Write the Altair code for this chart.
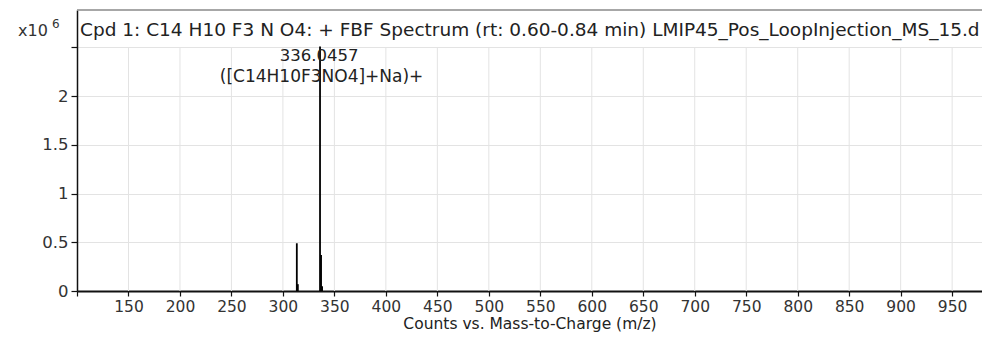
import altair as alt
import pandas as pd

# spectrum peaks (m/z, counts)
peak_mz = [313.5, 314.5, 336.0457, 337.05, 338.05]
peak_counts = [490000, 70000, 2510000, 370000, 50000]

x_ticks = [100, 150, 200, 250, 300, 350, 400, 450, 500, 550, 600, 650, 700, 750, 800, 850, 900, 950]
y_ticks = [0, 0.5, 1, 1.5, 2, 2.5]

title_text = "Cpd 1: C14 H10 F3 N O4: + FBF Spectrum (rt: 0.60-0.84 min) LMIP45_Pos_LoopInjection_MS_15.d"
ann_lines = ["336.0457", "([C14H10F3NO4]+Na)+"]

X_DOM = [100, 979]
Y_DOM = [0, 2.885]
FONT = "DejaVu Sans"

peaks = pd.DataFrame({"mz": peak_mz, "counts": peak_counts})
peaks["y"] = peaks["counts"] / 1e6
peaks["y0"] = 0.0

grid = pd.DataFrame({"mz": x_ticks[1:], "y0": 0.0, "y1": 2.5})

xs = alt.Scale(domain=X_DOM, nice=False, zero=False)
ys = alt.Scale(domain=Y_DOM, nice=False, zero=True)

vgrid = alt.Chart(grid).mark_rule(color="#e3e3e3", strokeWidth=1).encode(
    x=alt.X("mz:Q", scale=xs,
            axis=alt.Axis(values=x_ticks, grid=False, title="Counts vs. Mass-to-Charge (m/z)",
                          labelExpr="datum.value == 100 ? '' : datum.label",
                          labelFont=FONT, labelFontSize=15.5, labelColor="#333333",
                          titleFont=FONT, titleFontSize=15.5, titleFontWeight="normal",
                          titleColor="#222222", titlePadding=2,
                          domainColor="#111111", domainWidth=2,
                          tickColor="#111111", tickSize=5, tickWidth=1.2,
                          labelPadding=3)),
    y=alt.Y("y0:Q", scale=ys,
            axis=alt.Axis(values=y_ticks, grid=True, gridColor="#e3e3e3", title=None,
                          labelExpr="datum.value == 2.5 ? '' : format(datum.value, '~g')",
                          labelFont=FONT, labelFontSize=16.5, labelColor="#333333",
                          domainColor="#111111", domainWidth=1.5,
                          tickColor="#111111", tickSize=6, tickWidth=1.2,
                          labelPadding=3)),
    y2="y1:Q",
)

top_line = alt.Chart(pd.DataFrame({"a": [X_DOM[0]], "b": [X_DOM[1]], "y": [Y_DOM[1]]})).mark_rule(
    color="#8a8a8a", strokeWidth=1.5
).encode(x=alt.X("a:Q", scale=xs), x2="b:Q", y=alt.Y("y:Q", scale=ys))

spec = alt.Chart(peaks).mark_rule(color="#000000", strokeWidth=1.8).encode(
    x=alt.X("mz:Q", scale=xs), y=alt.Y("y:Q", scale=ys), y2="y0:Q"
)

ann = pd.DataFrame({"mz": [peak_mz[2], peak_mz[2] + 1.5], "y": [peak_counts[2] / 1e6] * 2,
                    "t": ann_lines, "k": [0, 1]})
ann1 = alt.Chart(ann[ann.k == 0]).mark_text(font=FONT, fontSize=16.5, color="#222222", dy=9, dx=-1).encode(
    x=alt.X("mz:Q", scale=xs), y=alt.Y("y:Q", scale=ys), text="t:N")
ann2 = alt.Chart(ann[ann.k == 1]).mark_text(font=FONT, fontSize=17, color="#222222", dy=30).encode(
    x=alt.X("mz:Q", scale=xs), y=alt.Y("y:Q", scale=ys), text="t:N")

head = alt.Chart(pd.DataFrame({"t": [title_text]})).mark_text(
    font=FONT, fontSize=18.5, color="#222222", align="left", baseline="middle",
    limit=903, ellipsis=""
).encode(x=alt.value(3), y=alt.value(20), text="t:N")

x10 = alt.Chart(pd.DataFrame({"t": ["x10"]})).mark_text(
    font=FONT, fontSize=16, color="#333333", align="left", baseline="middle"
).encode(x=alt.value(-59), y=alt.value(21), text="t:N")
sup = alt.Chart(pd.DataFrame({"t": ["6"]})).mark_text(
    font=FONT, fontSize=12, color="#333333", align="left", baseline="middle"
).encode(x=alt.value(-25), y=alt.value(14), text="t:N")

chart = alt.layer(vgrid, top_line, spec, ann1, ann2, head, x10, sup).properties(
    width=905, height=281,
    autosize=alt.AutoSizeParams(type="none"),
    padding={"left": 69, "top": 2, "right": 0, "bottom": 48},
).configure_view(stroke=None)

chart.save("out.html", embed_options={"renderer": "svg", "actions": False})
